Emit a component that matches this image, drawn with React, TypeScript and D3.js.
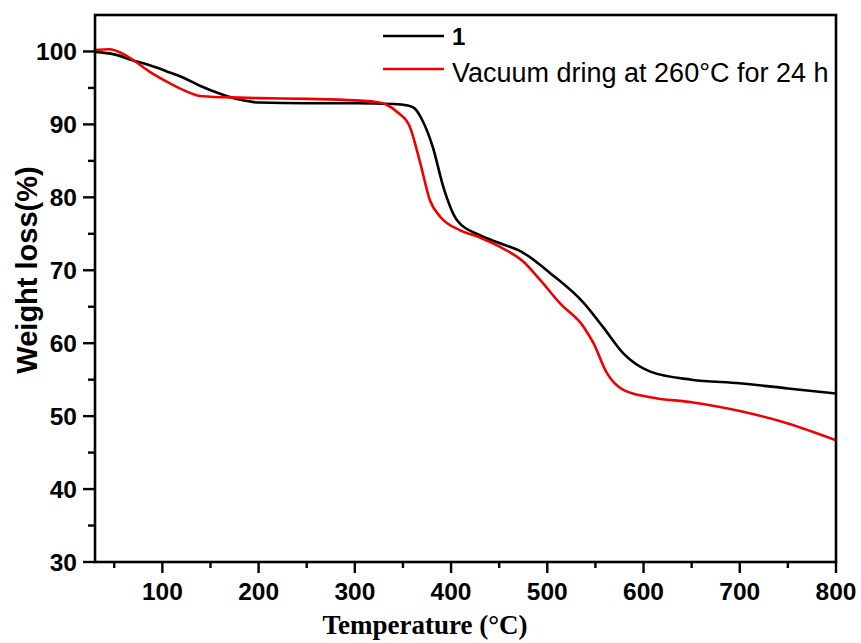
import React from "react";
import * as d3 from "d3";

// TGA curves: temperature (°C) and remaining weight (%)
const sample1Temp = [30, 50, 69, 87, 104, 122, 139, 160, 180, 200, 250, 300, 340, 355, 362, 370, 381, 392, 406, 430, 451, 475, 503, 538, 558, 579, 607, 650, 700, 750, 800];
const sample1Weight = [99.95, 99.6, 98.8, 98.1, 97.3, 96.4, 95.3, 94.2, 93.4, 93.0, 92.9, 92.9, 92.8, 92.6, 92.2, 90.6, 86.9, 81.4, 76.9, 74.8, 73.7, 72.4, 69.6, 65.5, 62.2, 58.6, 56.1, 55.0, 54.5, 53.8, 53.1];

const vacuumTemp = [30, 45, 60, 70, 87, 104, 122, 139, 150, 170, 200, 250, 300, 320, 333, 345, 357, 368, 378, 389, 409, 430, 451, 475, 493, 513, 538, 548, 562, 579, 607, 650, 700, 750, 800];
const vacuumWeight = [100.2, 100.3, 99.6, 98.8, 97.2, 95.9, 94.7, 93.9, 93.8, 93.7, 93.6, 93.5, 93.3, 93.1, 92.7, 91.6, 89.7, 84.7, 79.6, 77.3, 75.5, 74.5, 73.2, 71.2, 68.6, 65.5, 62.2, 60.0, 55.9, 53.6, 52.6, 51.9, 50.7, 49.0, 46.7];

const xMajorTicks = [100, 200, 300, 400, 500, 600, 700, 800];
const xMinorTicks = [50, 150, 250, 350, 450, 550, 650, 750];
const yMajorTicks = [30, 40, 50, 60, 70, 80, 90, 100];
const yMinorTicks = [35, 45, 55, 65, 75, 85, 95];

const seriesNames = ["1", "Vacuum dring at 260°C for 24 h"];
const seriesColors = ["#000000", "#ee0000"];

const W = 861;
const H = 643;
const left = 95;
const right = 836;
const top = 15;
const bottom = 562;

export default function App() {
  const x = d3.scaleLinear().domain([30, 800]).range([left, right]);
  const y = d3.scaleLinear().domain([30, 105]).range([bottom, top]);

  const line = d3
    .line<[number, number]>()
    .x((d) => x(d[0]))
    .y((d) => y(d[1]))
    .curve(d3.curveMonotoneX);

  const s1 = sample1Temp.map((t, i) => [t, sample1Weight[i]] as [number, number]);
  const s2 = vacuumTemp.map((t, i) => [t, vacuumWeight[i]] as [number, number]);

  const sans = "'Liberation Sans', Arial, sans-serif";
  const serif = "'Liberation Serif', 'Times New Roman', serif";

  return (
    <svg
      width={W}
      height={H}
      style={{ position: "absolute", left: 0, top: 0, background: "#fff" }}
    >
      <rect x={0} y={0} width={W} height={H} fill="#fff" />

      <path d={line(s1) || ""} fill="none" stroke={seriesColors[0]} strokeWidth={2.6} />
      <path d={line(s2) || ""} fill="none" stroke={seriesColors[1]} strokeWidth={2.6} />

      {/* frame */}
      <rect
        x={left}
        y={top}
        width={right - left}
        height={bottom - top}
        fill="none"
        stroke="#000"
        strokeWidth={2.6}
      />

      {/* x ticks */}
      {xMajorTicks.map((t) => (
        <g key={"xm" + t}>
          <line x1={x(t)} x2={x(t)} y1={bottom} y2={bottom + 11} stroke="#000" strokeWidth={2.4} />
          <text
            x={x(t)}
            y={600}
            textAnchor="middle"
            fontFamily={sans}
            fontWeight="bold"
            fontSize={24.5}
            fill="#000"
          >
            {t}
          </text>
        </g>
      ))}
      {xMinorTicks.map((t) => (
        <line key={"xn" + t} x1={x(t)} x2={x(t)} y1={bottom} y2={bottom + 6} stroke="#000" strokeWidth={2.4} />
      ))}

      {/* y ticks */}
      {yMajorTicks.map((t) => (
        <g key={"ym" + t}>
          <line x1={left - 12} x2={left} y1={y(t)} y2={y(t)} stroke="#000" strokeWidth={2.4} />
          <text
            x={77}
            y={y(t) + 8.7}
            textAnchor="end"
            fontFamily={sans}
            fontWeight="bold"
            fontSize={24.5}
            fill="#000"
          >
            {t}
          </text>
        </g>
      ))}
      {yMinorTicks.map((t) => (
        <line key={"yn" + t} x1={left - 7} x2={left} y1={y(t)} y2={y(t)} stroke="#000" strokeWidth={2.4} />
      ))}

      {/* axis titles */}
      <text
        x={425}
        y={634}
        textAnchor="middle"
        fontFamily={serif}
        fontWeight="bold"
        fontSize={27}
        fill="#000"
      >
        Temperature (°C)
      </text>
      <text
        transform={`translate(37, 270) rotate(-90)`}
        textAnchor="middle"
        fontFamily={sans}
        fontWeight="bold"
        fontSize={29}
        fill="#000"
      >
        Weight loss(%)
      </text>

      {/* legend */}
      <line x1={383} x2={444} y1={36} y2={36} stroke={seriesColors[0]} strokeWidth={2.6} />
      <text x={452} y={45} fontFamily={sans} fontWeight="bold" fontSize={24} fill="#000">
        {seriesNames[0]}
      </text>
      <line x1={383} x2={444} y1={69} y2={69} stroke={seriesColors[1]} strokeWidth={2.6} />
      <text x={452} y={82} fontFamily={sans} fontSize={27} fill="#000">
        {seriesNames[1]}
      </text>
    </svg>
  );
}
